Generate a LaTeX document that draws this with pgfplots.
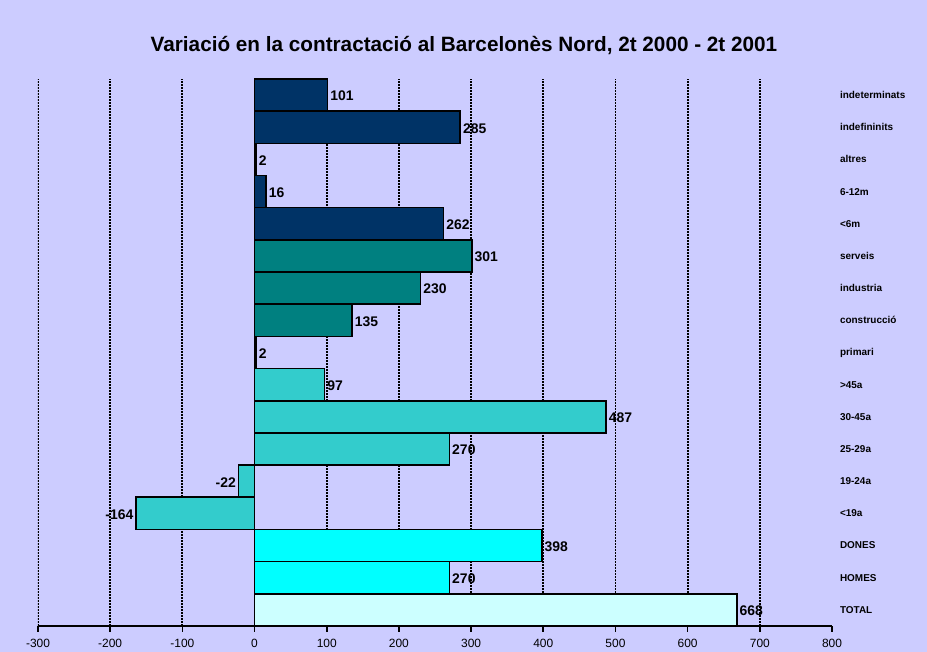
\documentclass[border=0pt]{standalone}
\usepackage{pgfplots}
\pgfplotsset{compat=1.18}
\usepackage{fontspec}
\setmainfont{Liberation Sans}
\definecolor{bgc}{HTML}{CCCCFF}
\definecolor{navyc}{HTML}{003366}
\definecolor{tealc}{HTML}{008080}
\definecolor{turq}{HTML}{33CCCC}
\definecolor{cyanc}{HTML}{00FFFF}
\definecolor{lcyan}{HTML}{CCFFFF}

\pgfplotsset{
  /pgf/number format/assume math mode=true,
  hbar/.style={xbar, bar width=1, bar shift=0pt, draw=black, line width=1.6bp,
    nodes near coords,
    every node near coord/.append style={font=\bfseries\fontsize{14}{16}\selectfont,
      black, anchor=west, inner sep=2bp, yshift=-1bp}},
}

\begin{document}
\begin{tikzpicture}[x=1bp,y=1bp]
\clip (-38,-26) rectangle (889,626);
\fill[bgc] (-38,-26) rectangle (889,626);
\node[anchor=base, font=\bfseries\fontsize{20.8}{24}\selectfont] at (426,574)
  {Variació en la contractació al Barcelonès Nord, 2t 2000 - 2t 2001};
\begin{axis}[
  at={(0,0)}, anchor=south west,
  scale only axis, width=794bp, height=547bp,
  xmin=-300, xmax=800, ymin=-0.5, ymax=16.5,
  axis x line*=bottom, axis y line*=right,
  y axis line style={draw=none},
  x axis line style={line width=1.6bp},
  xtick={-300,-200,...,800},
  tick align=outside,
  xtick style={line width=1.6bp, black},
  major tick length=6bp,
  xticklabel style={font=\fontsize{12}{14}\selectfont, yshift=-4bp},
  ytick={0,...,16},
  ytick style={draw=none},
  yticklabels={TOTAL,HOMES,DONES,<19a,19-24a,25-29a,30-45a,>45a,primari,construcció,industria,serveis,<6m,6-12m,altres,indefininits,indeterminats},
  yticklabel style={font=\bfseries\fontsize{10}{12}\selectfont, anchor=west, xshift=-1.5bp},
]
\pgfplotsinvokeforeach{-300,-200,-100,0,100,200,300,400,500,600,700}{
  \draw[line width=1.8bp, dash pattern=on 1.5bp off 1.5bp] (axis cs:#1,-0.5) -- (axis cs:#1,16.5);
}
\addplot[hbar, fill=navyc] coordinates {(101,16) (285,15) (2,14) (16,13) (262,12)};
\addplot[hbar, fill=tealc] coordinates {(301,11) (230,10) (135,9) (2,8)};
\addplot[hbar, fill=turq] coordinates {(97,7) (487,6) (270,5)};
\addplot[hbar, fill=turq, every node near coord/.append style={anchor=east}] coordinates {(-22,4) (-164,3)};
\addplot[hbar, fill=cyanc] coordinates {(398,2) (270,1)};
\addplot[hbar, fill=lcyan] coordinates {(668,0)};
\end{axis}
\end{tikzpicture}
\end{document}
